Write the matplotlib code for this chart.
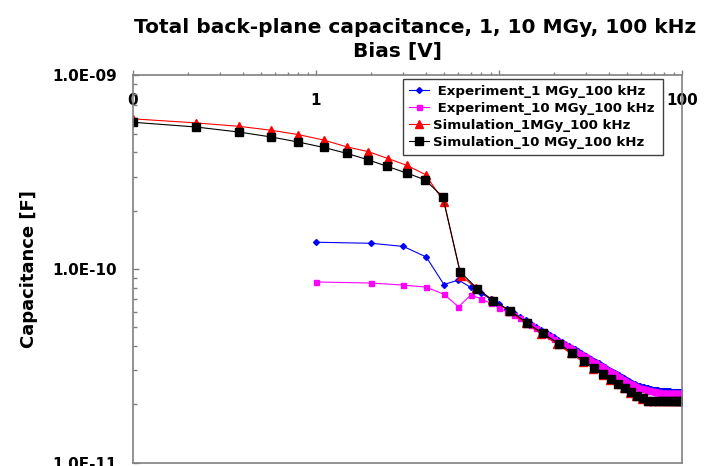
import matplotlib
matplotlib.use('Agg')
import matplotlib.pyplot as plt
from matplotlib.ticker import LogLocator, NullFormatter

plt.rcParams['font.family'] = ['DejaVu Sans']
plt.rcParams['font.weight'] = 'bold'

# ---------------- data (capacitance in pF) ----------------
title = "Total back-plane capacitance, 1, 10 MGy, 100 kHz"
x_label = "Bias [V]"
y_label = "Capacitance [F]"

x_ticks = [0.1, 1, 10, 100]
x_tick_labels = ["0", "1", "", "100"]   # the "10" label is hidden behind the legend in the original
y_ticks = [1e-11, 1e-10, 1e-9]
y_tick_labels = ["1.0E-11", "1.0E-10", "1.0E-09"]

series_names = [" Experiment_1 MGy_100 kHz", " Experiment_10 MGy_100 kHz",
                "Simulation_1MGy_100 kHz", "Simulation_10 MGy_100 kHz"]

exp_v = list(range(1, 101))

exp1_pf = [137.5, 135.8, 130.8, 115.4, 83.1, 87.7, 80.4, 74.8, 69.9, 66.0,
           62.2, 59.1, 56.5, 54.2, 52.2, 50.3, 48.6, 47.1, 45.7, 44.4,
           43.2, 42.1, 41.1, 40.1, 39.2, 38.4, 37.6, 36.7, 36.0, 35.4,
           34.7, 34.1, 33.6, 33.0, 32.5, 32.0, 31.5, 31.0, 30.6, 30.1,
           29.7, 29.3, 28.9, 28.5, 28.2, 27.8, 27.5, 27.2, 26.9, 26.6,
           26.3, 26.0, 25.7, 25.5, 25.3, 25.2, 25.0, 24.9, 24.8, 24.7,
           24.6, 24.5, 24.4, 24.3, 24.2, 24.1, 24.0, 23.9, 23.8, 23.7,
           23.7, 23.6, 23.6, 23.6, 23.5, 23.5, 23.5, 23.4, 23.4, 23.4,
           23.4, 23.3, 23.3, 23.3, 23.3, 23.3, 23.2, 23.2, 23.2, 23.2,
           23.2, 23.2, 23.1, 23.1, 23.1, 23.1, 23.1, 23.1, 23.1, 23.1]

exp10_pf = [85.7, 84.6, 82.6, 80.6, 74.0, 63.8, 73.3, 70.1, 66.4, 63.0,
            60.1, 58.0, 55.7, 53.4, 51.4, 49.6, 47.9, 46.4, 45.0, 43.7,
            42.6, 41.5, 40.5, 39.5, 38.6, 37.8, 37.0, 36.2, 35.5, 34.9,
            34.2, 33.6, 33.1, 32.5, 32.0, 31.5, 31.0, 30.5, 30.1, 29.7,
            29.3, 28.9, 28.5, 28.1, 27.8, 27.4, 27.1, 26.8, 26.5, 26.2,
            25.9, 25.6, 25.3, 25.1, 24.9, 24.7, 24.5, 24.4, 24.3, 24.2,
            24.1, 24.0, 23.9, 23.8, 23.7, 23.6, 23.5, 23.4, 23.3, 23.3,
            23.2, 23.2, 23.1, 23.1, 23.1, 23.0, 23.0, 23.0, 23.0, 22.9,
            22.9, 22.9, 22.9, 22.9, 22.9, 22.9, 22.9, 22.9, 22.9, 22.9,
            22.8, 22.8, 22.8, 22.8, 22.8, 22.8, 22.8, 22.8, 22.8, 22.8]

sim1_v = [0.1, 0.22, 0.38, 0.57, 0.8, 1.1, 1.47, 1.93, 2.48, 3.14, 3.97, 5.0,
          6.2, 7.5, 9.2, 11.3, 14.0, 17.0, 20.8, 24.7, 28.6, 32.8, 36.8, 40.5,
          44.5, 48.4, 52.2, 56.1, 60.6, 65.0, 69.3, 73.3, 77.3, 81.3, 85.3,
          89.3, 93.3, 97.3, 100]
sim1_pf = [597, 569, 546, 521, 495, 464, 428, 404, 372, 343, 307, 222,
           92.0, 80.0, 69.0, 61.0, 52.5, 46.2, 41.0, 36.6, 33.2, 30.6, 28.4, 26.8,
           25.4, 24.2, 23.0, 22.0, 21.4, 20.9, 20.8, 20.8, 20.8, 20.8, 20.8,
           20.8, 20.8, 20.8, 20.8]

sim10_v = [0.1, 0.22, 0.38, 0.57, 0.8, 1.1, 1.47, 1.92, 2.45, 3.14, 3.94, 4.93,
           6.12, 7.61, 9.31, 11.5, 14.2, 17.3, 21.2, 25.1, 29.0, 33.2, 37.2, 40.9,
           44.9, 48.8, 52.6, 56.5, 61.0, 65.4, 69.7, 73.5, 77.5, 81.5, 85.5,
           89.5, 93.5, 97.5, 100]
sim10_pf = [573, 542, 510, 481, 453, 425, 396, 367, 339, 313, 289, 236,
            96.8, 79.1, 68.5, 60.8, 52.7, 46.5, 41.2, 36.8, 33.5, 30.8, 28.6, 26.9,
            25.6, 24.4, 23.1, 22.1, 21.5, 20.9, 20.8, 20.8, 20.8, 20.8, 20.8,
            20.8, 20.8, 20.8, 20.8]

PF = 1e-12

# ---------------- figure ----------------
fig = plt.figure(figsize=(7.11, 4.66), dpi=100)
ax = fig.add_axes([0.1871, 0.0075, 0.7722, 0.8305])
ax.set_xscale('log')
ax.set_yscale('log')

ax.plot(exp_v, [c * PF for c in exp1_pf], color='#0000ff', lw=0.8,
        marker='D', ms=3.0, mfc='#0000ff', mec='#0000ff', label=series_names[0])
ax.plot(exp_v, [c * PF for c in exp10_pf], color='#ff00ff', lw=0.8,
        marker='s', ms=3.6, mfc='#ff00ff', mec='#ff00ff', label=series_names[1])
ax.plot(sim1_v, [c * PF for c in sim1_pf], color='#ff0000', lw=0.8,
        marker='^', ms=5.5, mfc='#ff0000', mec='#ff0000', label=series_names[2])
ax.plot(sim10_v, [c * PF for c in sim10_pf], color='#000000', lw=0.8,
        marker='s', ms=5.8, mfc='#000000', mec='#000000', label=series_names[3])

ax.set_xlim(0.1, 100)
ax.set_ylim(1e-11, 1e-9)

# x axis on top, labels inside the plot area
ax.xaxis.tick_top()
ax.set_xticks(x_ticks)
ax.set_xticklabels(x_tick_labels, fontsize=11, fontweight='bold')
ax.xaxis.set_minor_locator(LogLocator(base=10, subs=range(2, 10)))
ax.xaxis.set_minor_formatter(NullFormatter())
ax.tick_params(axis='x', which='both', top=True, bottom=False, labeltop=True,
               labelbottom=False, direction='out', color='#808080', width=1)
ax.tick_params(axis='x', which='major', length=3.5, pad=-27)
ax.tick_params(axis='x', which='minor', length=2.0)

ax.set_yticks(y_ticks)
ax.set_yticklabels(y_tick_labels, fontsize=11, fontweight='bold')
ax.yaxis.set_minor_locator(LogLocator(base=10, subs=range(2, 10)))
ax.yaxis.set_minor_formatter(NullFormatter())
ax.tick_params(axis='y', which='both', left=True, right=False, direction='in',
               color='#808080', width=1)
ax.tick_params(axis='y', which='major', length=4, pad=11.5)
ax.tick_params(axis='y', which='minor', length=2.7)

for s in ax.spines.values():
    s.set_color('#808080')
    s.set_linewidth(1.2)

fig.suptitle(title, x=0.5837, y=0.942, va='center', fontsize=14.5, fontweight='bold')

ax.set_xlabel(x_label, fontsize=14.5, fontweight='bold')
ax.xaxis.set_label_position('top')
ax.xaxis.set_label_coords(0.481, 1.062)
ax.xaxis.label.set_va('center')

ax.set_ylabel(y_label, fontsize=13, fontweight='bold')
ax.yaxis.set_label_coords(-0.189, 0.5)
ax.yaxis.label.set_va('center')

leg = ax.legend(loc='upper left', bbox_to_anchor=(0.4918, 0.5, 0.4736, 0.491),
                mode='expand', borderaxespad=0,
                prop={'weight': 'bold', 'size': 9.6},
                handlelength=1.5, handletextpad=0.3, labelspacing=0.3,
                borderpad=0.45, fancybox=False, framealpha=1, edgecolor='#404040')
leg.get_frame().set_linewidth(1.0)

fig.savefig('out.png', dpi=100)
